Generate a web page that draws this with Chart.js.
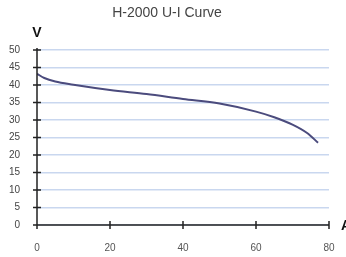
<!doctype html>
<html>
<head>
<title>H-2000 U-I Curve</title>
<script src="https://cdn.jsdelivr.net/npm/chart.js@4"></script>
<style>
  html, body { margin: 0; padding: 0; background: #fff; }
  #holder { width: 346px; height: 257px; }
</style>
</head>
<body>
<div id="holder"><canvas id="chart"></canvas></div>
<script>
  // current (A) and voltage (V)
  var current = [0, 2, 5, 10, 20, 30, 40, 50, 60, 65, 70, 74, 77];
  var voltage = [43.2, 42.0, 41.0, 40.1, 38.6, 37.4, 36.0, 34.7, 32.4, 30.8, 28.7, 26.3, 23.5];
  var xTicks = [0, 20, 40, 60, 80];
  var yTicks = [0, 5, 10, 15, 20, 25, 30, 35, 40, 45, 50];

  var points = current.map(function (c, i) { return { x: c, y: voltage[i] }; });

  // axis lines with crossing tick marks, title and axis letters
  var axisPlugin = {
    id: 'axisPlugin',
    afterDraw: function (chart) {
      var ctx = chart.ctx, xs = chart.scales.x, ys = chart.scales.y;
      var x0 = xs.getPixelForValue(0), y0 = ys.getPixelForValue(0);
      ctx.save();
      ctx.strokeStyle = '#222';
      ctx.lineWidth = 1.5;
      ctx.beginPath();
      ctx.moveTo(x0, y0);
      ctx.lineTo(xs.getPixelForValue(80), y0);
      ctx.moveTo(x0, y0);
      ctx.lineTo(x0, ys.getPixelForValue(50) - 2);
      yTicks.forEach(function (v) {
        var p = ys.getPixelForValue(v);
        ctx.moveTo(x0 - 4, p);
        ctx.lineTo(x0 + 4, p);
      });
      xTicks.forEach(function (v) {
        var p = xs.getPixelForValue(v);
        ctx.moveTo(p, y0 - 4);
        ctx.lineTo(p, y0 + 4);
      });
      ctx.stroke();

      ctx.fillStyle = '#111';
      ctx.textAlign = 'center';
      ctx.textBaseline = 'middle';
      ctx.font = 'bold 14px "Liberation Sans", Arial, sans-serif';
      ctx.fillText('V', x0, 33);
      ctx.textAlign = 'left';
      ctx.fillText('A', xs.getPixelForValue(80) + 12, y0 + 1);

      ctx.fillStyle = '#444';
      ctx.textAlign = 'center';
      ctx.font = '14px "Liberation Sans", Arial, sans-serif';
      ctx.fillText('H-2000 U-I Curve', 167, 13);
      ctx.restore();
    }
  };

  var config = {
    type: 'scatter',
    data: {
      datasets: [{
        data: points,
        showLine: true,
        borderColor: '#4b4b7d',
        borderWidth: 2,
        pointRadius: 0,
        cubicInterpolationMode: 'monotone',
        fill: false
      }]
    },
    options: {
      responsive: false,
      animation: false,
      layout: { padding: { left: 0, right: 17, top: 50, bottom: 0 } },
      plugins: {
        legend: { display: false },
        title: { display: false },
        tooltip: { enabled: false }
      },
      scales: {
        x: {
          type: 'linear',
          min: 0,
          max: 80,
          afterFit: function (s) { s.height = 32; },
          afterBuildTicks: function (s) { s.ticks = xTicks.map(function (v) { return { value: v }; }); },
          grid: { display: false },
          border: { display: false },
          ticks: {
            padding: 9,
            color: '#555',
            font: { size: 10, family: '"Liberation Sans", Arial, sans-serif' }
          }
        },
        y: {
          min: 0,
          max: 50,
          afterFit: function (s) { s.width = 37; },
          afterBuildTicks: function (s) { s.ticks = yTicks.map(function (v) { return { value: v }; }); },
          grid: { color: '#c9d7ef', lineWidth: 1.5, drawTicks: false },
          border: { display: false },
          ticks: {
            padding: 17,
            color: '#444',
            font: { size: 10, family: '"Liberation Sans", Arial, sans-serif' }
          }
        }
      }
    },
    plugins: [axisPlugin]
  };

  window.onload = function () {
    var cv = document.getElementById('chart');
    cv.width = 346;
    cv.height = 257;
    window.myChart = new Chart(cv.getContext('2d'), config);
  };
</script>
</body>
</html>
